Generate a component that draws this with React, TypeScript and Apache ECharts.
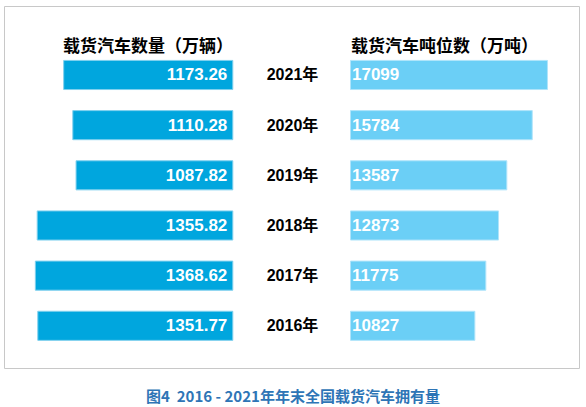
import React, { useEffect, useRef } from "react";
import * as echarts from "echarts";

const years = ["2021", "2020", "2019", "2018", "2017", "2016"];
const vehicleCounts = [1173.26, 1110.28, 1087.82, 1355.82, 1368.62, 1351.77];
const tonnage = [17099, 15784, 13587, 12873, 11775, 10827];
const leftTitle = "载货汽车数量（万辆）";
const rightTitle = "载货汽车吨位数（万吨）";
const caption = "图4  2016 - 2021年年末全国载货汽车拥有量";

const FONT = "'Liberation Sans', Arial, 'Noto Sans CJK SC', sans-serif";
const CJK = "'Noto Sans CJK SC', 'Liberation Sans', sans-serif";

export default function App() {
  const ref = useRef<HTMLDivElement>(null);
  useEffect(() => {
    if (!ref.current) return;
    const chart = echarts.init(ref.current, undefined, { renderer: "svg" });
    const top = 49.9;
    const height = 301;
    chart.setOption({
      animation: false,
      backgroundColor: "#ffffff",
      grid: [
        { left: 30.3, width: 203, top, height },
        { left: 350, width: 208.4, top, height },
      ],
      xAxis: [
        { type: "value", gridIndex: 0, min: 0, max: 1400, inverse: true, show: false },
        { type: "value", gridIndex: 1, min: 0, max: 18000, show: false },
      ],
      yAxis: [
        { type: "category", gridIndex: 0, data: years, inverse: true, show: false },
        {
          type: "category",
          gridIndex: 1,
          data: years,
          inverse: true,
          axisLine: { show: false },
          axisTick: { show: false },
          splitLine: { show: false },
          axisLabel: {
            formatter: (v: string) => v + "年",
            align: "center",
            margin: 57.5,
            fontSize: 16,
            fontWeight: "bold",
            color: "#000000",
            fontFamily: FONT,
          },
        },
      ],
      series: [
        {
          type: "bar",
          xAxisIndex: 0,
          yAxisIndex: 0,
          data: vehicleCounts,
          barCategoryGap: "40%",
          itemStyle: { color: "#00A6DE", borderColor: "#7FD0EE", borderWidth: 1 },
          label: {
            show: true,
            position: "insideRight",
            distance: 6,
            color: "#ffffff",
            fontSize: 17,
            fontWeight: "bold",
            fontFamily: FONT,
            formatter: (p: any) => Number(p.value).toFixed(2),
          },
        },
        {
          type: "bar",
          xAxisIndex: 1,
          yAxisIndex: 1,
          data: tonnage,
          barCategoryGap: "40%",
          itemStyle: { color: "#6BCFF6", borderColor: "#B0E4FA", borderWidth: 1 },
          label: {
            show: true,
            position: "insideLeft",
            distance: 2,
            color: "#ffffff",
            fontSize: 17,
            fontWeight: "bold",
            fontFamily: FONT,
          },
        },
      ],
      graphic: [
        {
          type: "rect",
          shape: { x: 4.5, y: 6.5, width: 575, height: 362 },
          style: { fill: "none", stroke: "#C8C8C8", lineWidth: 1 },
          silent: true,
        },
        {
          type: "text",
          x: 233,
          y: 44,
          style: {
            text: leftTitle,
            align: "right",
            verticalAlign: "middle",
            fontSize: 17,
            fontWeight: "bold",
            fill: "#000000",
            fontFamily: CJK,
          },
        },
        {
          type: "text",
          x: 351,
          y: 44,
          style: {
            text: rightTitle,
            align: "left",
            verticalAlign: "middle",
            fontSize: 17,
            fontWeight: "bold",
            fill: "#000000",
            fontFamily: CJK,
          },
        },
        {
          type: "text",
          x: 293,
          y: 395,
          style: {
            text: caption,
            align: "center",
            verticalAlign: "middle",
            fontSize: 15,
            fontWeight: "bold",
            fill: "#2E75B6",
            fontFamily: CJK,
          },
        },
      ],
    });
    return () => chart.dispose();
  }, []);
  return (
    <div
      ref={ref}
      style={{ position: "fixed", left: 0, top: 0, width: 586, height: 407 }}
    />
  );
}
